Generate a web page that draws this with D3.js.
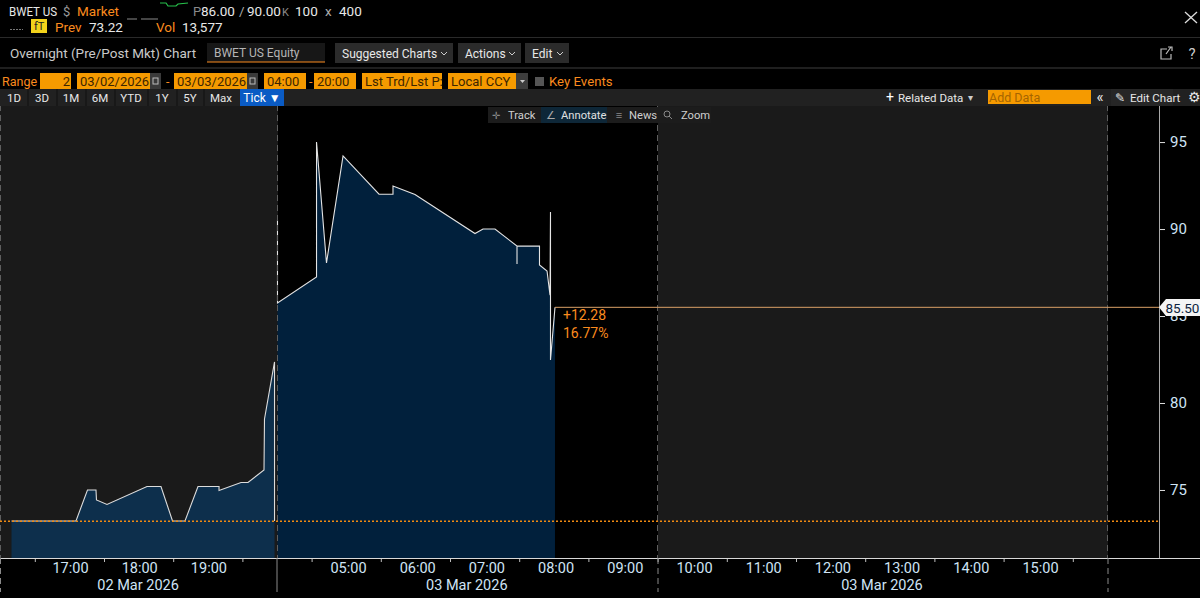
<!DOCTYPE html>
<html><head><meta charset="utf-8">
<script src="https://cdn.jsdelivr.net/npm/d3@7"></script>
<style>
html,body{margin:0;padding:0;background:#000;overflow:hidden}
svg{display:block;font-family:Roboto,"Liberation Sans",sans-serif}
</style></head><body>
<svg id="c" width="1200" height="598"></svg>
<script>
// Session hours are counted from 00:00 on 02 Mar 2026; 03 Mar starts at hour 24.
const priorTimes = [16.156,17.088,17.254,17.377,17.384,17.536,18.114,18.316,18.483,18.663,18.851,19.155,19.155,19.473,19.574,19.805,19.812,19.957,19.957];
const priorPrices = [73.22,73.22,75.0,75.0,74.43,74.17,75.2,75.2,73.22,73.22,75.2,75.2,74.97,75.43,75.43,76.15,79.08,82.36,73.22];
const currentTimes = [28.0,28.0,28.564,28.564,28.708,28.947,29.467,29.669,29.669,29.987,30.854,30.97,31.143,31.461,31.461,31.461,31.786,31.786,31.895,31.938,31.945,31.945,32.01];
const currentPrices = [90.52,85.75,87.24,95.0,88.05,94.2,92.0,92.0,92.47,91.98,89.74,90.0,90.0,89.02,87.99,89.02,89.02,87.93,87.59,86.2,90.98,82.47,85.5];
const yTicks = [75,80,85,90,95];
const hourTicks = [17,18,19,29,30,31,32,33,34,35,36,37,38,39];
const halfHourTicks = [16.5,17.5,18.5,19.5,28.5,29.5,30.5,31.5,32.5,33.5,34.5,35.5,36.5,37.5,38.5,39.5];
const sessionBreaks = [16,28,33.5,40];
const shadedSessions = [[16,20],[33.5,40]];
const dateLabels = [["02 Mar 2026",18],["03 Mar 2026",30.75],["03 Mar 2026",36.75]];
const prevClose = 73.22, lastPrice = 85.5, changeAbs = "+12.28", changePct = "16.77%";

const orange="#fb8b1e", box="#f59a00", boxText="#3d2500", white="#e8e8e8";
const svg=d3.select("#c");
const x=d3.scaleLinear().domain([16,20,28,40]).range([0.7,277.5,277.5,1107.9]);
const y=d3.scaleLinear().domain([71.09,97.13]).range([558,105]);
const T=(s,px,py,o={})=>{const t=svg.append("text").attr("x",px).attr("y",py).text(s)
  .attr("fill",o.c||white).attr("font-size",o.s||12.5).attr("text-anchor",o.a||"start");
  if(o.w) t.attr("textLength",o.w).attr("lengthAdjust","spacingAndGlyphs");return t;};
const R=(a,b,w,h,c,st)=>svg.append("rect").attr("x",a).attr("y",b).attr("width",w).attr("height",h).attr("fill",c).attr("stroke",st||"none");
const L=(a,b,c,d,col,w=1,dash)=>svg.append("line").attr("x1",a).attr("y1",b).attr("x2",c).attr("y2",d).attr("stroke",col).attr("stroke-width",w).attr("stroke-dasharray",dash||null);

// Plot shading
shadedSessions.forEach(s=>{const a=Math.floor(x(s[0]))-(s[0]===16?1:0);R(a,105,Math.round(x(s[1]))-a,453,"#1a1a1a");});

// Areas
const area=d3.area().x(d=>x(d[0])).y0(y.range()[0]).y1(d=>y(d[1]));
const line=d3.line().x(d=>x(d[0])).y(d=>y(d[1]));
const prior=priorTimes.map((t,i)=>[t,priorPrices[i]]);
const current=currentTimes.map((t,i)=>[t,currentPrices[i]]);
svg.append("path").attr("d",area(prior)).attr("fill","#0d2f4c");
svg.append("path").attr("d",area(current)).attr("fill","#01203c");
svg.append("path").attr("d",line(prior)).attr("fill","none").attr("stroke","#dcdcdc").attr("stroke-width",1.1);
svg.append("path").attr("d",line(current)).attr("fill","none").attr("stroke","#e4e4e4").attr("stroke-width",1.1);

// Session dividers
sessionBreaks.forEach(b=>{const v=Math.round(x(b))-.5;L(v,105,v,558,"#5e5e5e",1,"6,4");});

// Reference lines
L(0,y(prevClose)+.3,1159,y(prevClose)+.3,"#f08a12",1.4,"2,2");
L(x(currentTimes[currentTimes.length-1]),y(lastPrice),1159,y(lastPrice),"#d9a066",1);
T(changeAbs,563,320,{c:orange,s:14});
T(changePct,563,338,{c:orange,s:14});

// Bottom axis
const xAxis=svg.append("g").attr("transform","translate(0,558)");
L(0,558.5,1200,558.5,"#d8d8d8",1);
xAxis.selectAll("line.t").data(halfHourTicks).join("line").attr("class","t")
  .attr("x1",d=>x(d)).attr("x2",d=>x(d)).attr("y1",0).attr("y2",4).attr("stroke","#bdbdbd");
xAxis.selectAll("text").data(hourTicks).join("text")
  .attr("x",d=>x(d)+(d<24?0.6:1.8)).attr("y",15).attr("text-anchor","middle").attr("fill","#cfe4f5").attr("font-size",14.5)
  .text(d=>String(d%24).padStart(2,"0")+":00");
dateLabels.forEach(d=>T(d[0],x(d[1])-1,590,{c:"#cfe4f5",s:14.5,a:"middle"}));
[0.5,277,658,1108].forEach(v=>L(v,558,v,592,"#8a8a8a",1,v===277?null:"6,4"));

// Right axis
const yA=d3.axisRight(y).tickValues(yTicks).tickSize(6).tickFormat(d3.format("d"));
const ga=svg.append("g").attr("transform","translate(1159,0)").call(yA);
ga.select(".domain").remove();
ga.selectAll("line").attr("stroke","#ddd");
ga.selectAll("text").attr("fill","#cfe4f5").attr("font-size",15).attr("font-family","Roboto").attr("dx",2);
L(1159.5,105,1159.5,558,"#a8a8a8",1);
svg.append("path").attr("d",`M1159 ${y(lastPrice)} L1166 299 H1200 V316 H1166 Z`).attr("fill","#f4f4f4");
T("85.50",1165.5,313,{c:"#0b2440",s:13.5});

// Header
T("BWET US",9,16,{s:13,w:48});T("$",63,16,{c:"#9a9a9a",s:13});T("Market",77,16,{c:orange,s:13.5});
L(127,19,137,19,"#8a8a8a");L(141,19,158,19,"#8a8a8a");
svg.append("path").attr("d","M160 3 L166 3 L168 6 L176 6 L178 4 L188 3").attr("fill","none").attr("stroke","#27c24c").attr("stroke-width",1.2);
T("P",193,16,{c:"#8a8a8a",s:13});T("86.00",201,16,{s:13.5});T("/",239,16,{c:"#aaa",s:13.5});
T("90.00",247,16,{s:13.5});T("K",282,16,{c:"#8a8a8a",s:11});T("100",295,16,{s:13.5});T("x",325,16,{c:"#aaa",s:13.5});T("400",339,16,{s:13.5});
L(10,29.5,23,29.5,"#777",1,"2,1");
R(31,19,16,14,"#f2d21b");T("fT",34,30,{c:"#222",s:11});
T("Prev",55,32,{c:orange,s:13.5});T("73.22",89,32,{s:13.5});T("Vol",156,32,{c:orange,s:13.5});T("13,577",182,32,{s:13.5});
L(1185,12,1197,23,"#ddd",1.3);L(1197,12,1185,23,"#ddd",1.3);
L(0,37.5,1200,37.5,"#2a2a2a");L(0,68,1200,68,"#2a2a2a",1.5);

// Title row
T("Overnight (Pre/Post Mkt) Chart",10,58,{c:"#c9c9c9",s:13.5});
R(207,43,118,19,"#171717");L(207,62,325,62,orange);
T("BWET US Equity",214,57,{c:"#b5b5b5",s:12});
[[335,118,"Suggested Charts"],[458,63,"Actions"],[525,44,"Edit"]].forEach(b=>{
  R(b[0],43,b[1],20,"#2b2b2b");
  T(b[2],b[0]+7,58,{s:12});
  svg.append("path").attr("d",`M${b[0]+b[1]-12} 52 l3 3 l3 -3`).attr("fill","none").attr("stroke","#ccc");
});
svg.append("path").attr("d","M1167 49 h-6 v10 h10 v-5 M1166 54 l5 -7 M1168 47 h4 v4").attr("fill","none").attr("stroke","#bbb").attr("stroke-width",1.2);
T("?",1192,59,{c:"#ccc",s:15,a:"middle"});

// Range row
T("Range",2,86,{c:orange,s:12.5});
[[40,31,"2","end"],[77,73,"03/02/2026"],[174,73,"03/03/2026"],[264,42,"04:00"],[314,42,"20:00"],[362,80,"Lst Trd/Lst P:"],[448,68,"Local CCY"]].forEach(b=>{
  R(b[0],73,b[1],16,box);
  if(b[3]) T(b[2],b[0]+b[1]-1,86,{c:boxText,s:13,a:"end"}); else T(b[2],b[0]+3,86,{c:boxText,s:13});
});
[150,247].forEach(v=>{R(v,73,11,16,"#3a3a3a");R(v+3,78,5,6,"none","#bbb");});
T("-",166,86,{c:orange});T("-",309,86,{c:orange});
R(516,73,12,16,"#3d3d3d");svg.append("path").attr("d","M520 80 h5 l-2.5 3 Z").attr("fill","#ccc");
R(535,77,9,9,"#555");T("Key Events",549,86,{c:orange,s:13.2});

// Range buttons row
R(0,89,1200,17,"#212121");
[[14,"1D"],[42,"3D"],[71,"1M"],[100,"6M"],[131,"YTD"],[162,"1Y"],[190,"5Y"],[221,"Max"]].forEach(b=>T(b[1],b[0],102,{s:11.5,a:"middle"}));
[28,57,86,115,148,177,204].forEach(v=>L(v,89,v,106,"#111"));
R(240,89,44,17,"#0a5bc4");T("Tick ▼",262,102,{s:12,a:"middle",c:"#fff"});
T("+",886,102,{s:14,c:"#fff"});T("Related Data",898,102,{s:11.5});T("▾",970,101,{s:10,c:"#ccc",a:"middle"});
R(988,90,103,14,box);T("Add Data",989,102,{c:"#a56500",s:12.5});
T("«",1100,102,{s:15,a:"middle"});R(1111,89,62,17,"#262626");T("✎",1115,102,{s:12});T("Edit Chart",1130,102,{s:11.5});T("⚙",1194,102,{s:14,a:"middle"});

// Floating toolbar
R(488,107,223,16,"#1c1c1c");R(541,107,66,16,"#0e2738");
T("✛",496,119,{s:10,c:"#888",a:"middle"});T("Track",508,119,{s:11.2,c:"#cfcfcf"});
T("∠",551,119,{s:11,c:"#aaa",a:"middle"});T("Annotate",561,119,{s:11.2,c:"#e0e0e0"});
T("≡",619,119,{s:11,c:"#888",a:"middle"});T("News",629,119,{s:11.2,c:"#cfcfcf"});
svg.append("circle").attr("cx",667).attr("cy",114).attr("r",3).attr("fill","none").attr("stroke","#888");L(669,116,672,119,"#888");
T("Zoom",681,119,{s:11.2,c:"#cfcfcf"});
</script></body></html>
